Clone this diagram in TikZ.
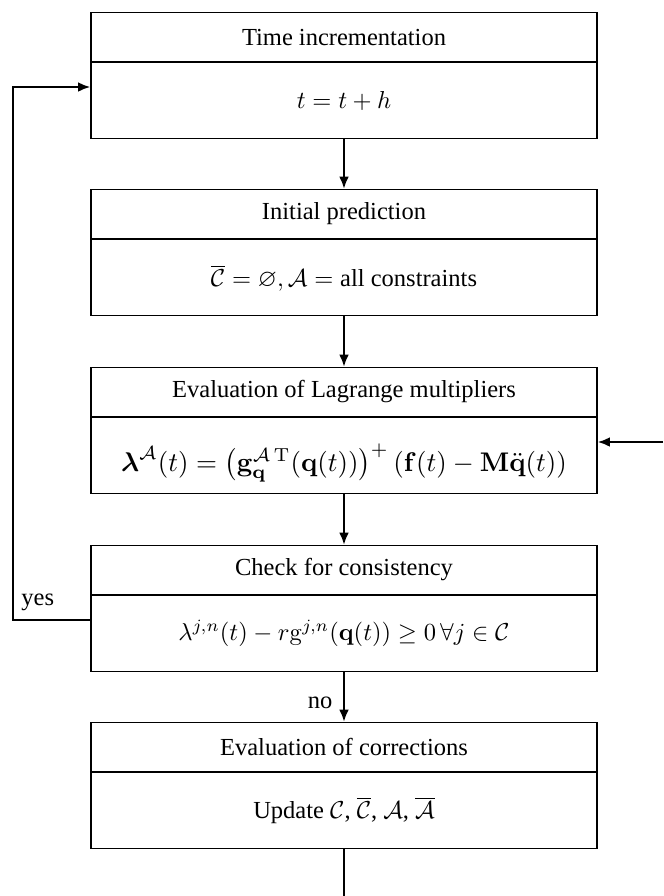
\documentclass[tikz,border=0pt]{standalone}
\usepackage{amsmath,amssymb}
\usepackage{graphicx}
\usepackage[no-math]{fontspec}
\setmainfont{Liberation Serif}
\usetikzlibrary{arrows.meta}

\begin{document}
\begin{tikzpicture}[x=0.408pt, y=-0.408pt,
  head/.style={draw, line width=0.5pt, minimum width=206.5pt, minimum height=20pt, inner sep=0pt},
  body/.style={draw, line width=0.5pt, minimum width=206.5pt, minimum height=31pt, inner sep=0pt},
  flow/.style={line width=0.9pt, -{Latex[length=5pt,width=4pt]}},
  plain/.style={line width=0.9pt}]
\useasboundingbox (0,0) rectangle (663,896);

% Stage boxes: a title row and a content row each
\node[head] (h1) at (344,37)  {Time incrementation};
\node[body, anchor=north] (b1) at (h1.south) {$t = t + h$};

\node[head] (h2) at (344,214) {Initial prediction};
\node[body, anchor=north] (b2) at (h2.south) {$\overline{\mathcal{C}} = \varnothing, \mathcal{A} = \text{all constraints}$};

\node[head] (h3) at (344,392) {Evaluation of Lagrange multipliers};
\node[body, anchor=north, text height=16pt, text depth=3.1pt] (b3) at (h3.south)
  {\scalebox{1.1}{$\boldsymbol{\lambda}^{\mathcal{A}}(t) = \bigl(\mathbf{g}_{\mathbf{q}}^{\mathcal{A}\,\mathrm{T}}(\mathbf{q}(t))\bigr)^{+}\,(\mathbf{f}(t) - \mathbf{M}\ddot{\mathbf{q}}(t))$}};

\node[head] (h4) at (344,570) {Check for consistency};
\node[body, anchor=north] (b4) at (h4.south)
  {$\lambda^{j,n}(t) - r\mathrm{g}^{j,n}(\mathbf{q}(t)) \geq 0\,\forall j \in \mathcal{C}$};

\node[head] (h5) at (344,747) {Evaluation of corrections};
\node[body, anchor=north] (b5) at (h5.south)
  {Update $\mathcal{C}$, $\overline{\mathcal{C}}$, $\mathcal{A}$, $\overline{\mathcal{A}}$};

% Free ends of the open connectors
\coordinate (inR) at (663,442);
\coordinate (outB) at (344,896);
\coordinate (loopB) at (13,620);
\coordinate (loopT) at (13,87);

% Main flow
\draw[flow] (b1.south) -- (h2.north);
\draw[flow] (b2.south) -- (h3.north);
\draw[flow] (b3.south) -- (h4.north);
\draw[flow] (b4.south) -- node[left, pos=0.62, xshift=-1pt] {no} (h5.north);
\draw[plain] (b5.south) -- (outB);
\draw[flow] (inR) -- (inR -| b3.east);

% Return to the time step
\draw[flow] (b4.west |- loopB) -- node[above, pos=0.68] {yes} (loopB) -- (loopT) -- (loopT -| b1.west);
\end{tikzpicture}
\end{document}
